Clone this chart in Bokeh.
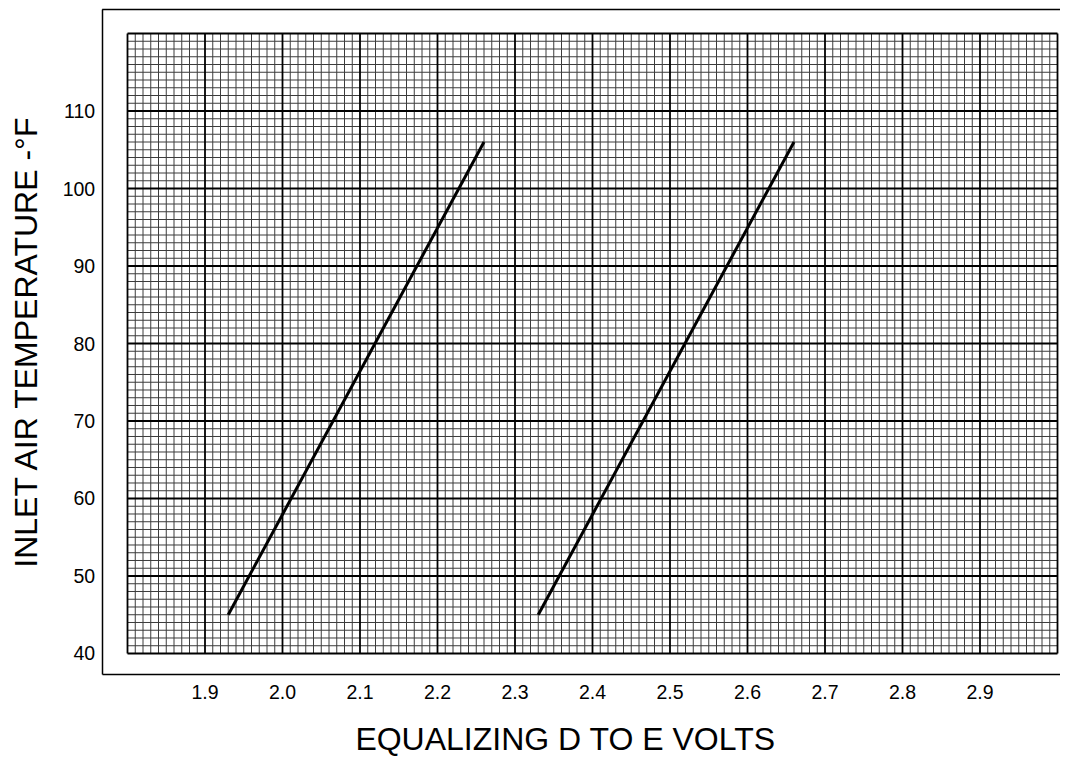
import numpy as np
from bokeh.plotting import figure
from bokeh.models import FixedTicker, Label
from bokeh.embed import file_html
from bokeh.resources import INLINE

# ---- chart data ----
curve_a_volts = [1.93, 2.26]
curve_a_temp = [45, 106]
curve_b_volts = [2.33, 2.66]
curve_b_temp = [45, 106]

x_ticks = [1.9, 2.0, 2.1, 2.2, 2.3, 2.4, 2.5, 2.6, 2.7, 2.8, 2.9]
x_tick_labels = ["1.9", "2.0", "2.1", "2.2", "2.3", "2.4", "2.5", "2.6", "2.7", "2.8", "2.9"]
y_ticks = [40, 50, 60, 70, 80, 90, 100, 110]
y_tick_labels = ["40", "50", "60", "70", "80", "90", "100", "110"]

x_title = "EQUALIZING D TO E VOLTS"
y_title = "INLET AIR TEMPERATURE -°F"

grid_x_min, grid_x_max = 1.8, 3.0
grid_y_min, grid_y_max = 40, 120

# ---- layout constants (data units of the outer frame) ----
FRAME_LEFT = 1.76735
FRAME_BOTTOM = 37.2903
FRAME_TOP = 123.0968
FRAME_RIGHT = 3.1

FONT = "Liberation Sans"

p = figure(width=1060, height=757,
           x_range=(1.636129, 3.003871), y_range=(26.5806, 124.2581),
           output_backend="svg", toolbar_location=None,
           min_border_left=0, min_border_right=0,
           min_border_top=0, min_border_bottom=0)
p.xgrid.visible = False
p.ygrid.visible = False
p.outline_line_color = None
p.background_fill_color = "white"
p.border_fill_color = "white"

# graph-paper grid (minor every 0.01 V / 1 degF, major every 0.1 V / 10 degF)
nx = int(round((grid_x_max - grid_x_min) / 0.01))
ny = int(round((grid_y_max - grid_y_min) / 1))
gx = np.round(grid_x_min + np.arange(nx + 1) * 0.01, 3)
gy = grid_y_min + np.arange(ny + 1) * 1.0
minor_x = [v for i, v in enumerate(gx) if i % 10]
major_x = [v for i, v in enumerate(gx) if i % 10 == 0]
minor_y = [v for i, v in enumerate(gy) if i % 10]
major_y = [v for i, v in enumerate(gy) if i % 10 == 0]

p.segment(x0=minor_x, y0=grid_y_min, x1=minor_x, y1=grid_y_max, line_color="#3c3c3c", line_width=1)
p.segment(x0=grid_x_min, y0=minor_y, x1=grid_x_max, y1=minor_y, line_color="#3c3c3c", line_width=1)
p.segment(x0=major_x, y0=grid_y_min, x1=major_x, y1=grid_y_max, line_color="black", line_width=1.8)
p.segment(x0=grid_x_min, y0=major_y, x1=grid_x_max, y1=major_y, line_color="black", line_width=1.8)

# curves
p.line(curve_a_volts, curve_a_temp, line_color="black", line_width=3)
p.line(curve_b_volts, curve_b_temp, line_color="black", line_width=3)

# top edge of the outer frame
p.segment(x0=[FRAME_LEFT], y0=[FRAME_TOP], x1=[FRAME_RIGHT], y1=[FRAME_TOP],
          line_color="black", line_width=1.5)

# axes (drawn at fixed positions: left and bottom edges of the outer frame)
for ax in (p.xaxis, p.yaxis):
    ax.axis_line_color = "black"
    ax.axis_line_width = 1.5
    ax.major_tick_in = 0
    ax.major_tick_out = 0
    ax.minor_tick_in = 0
    ax.minor_tick_out = 0
    ax.major_label_text_font = FONT
    ax.major_label_text_font_size = "19.5px"
    ax.major_label_text_color = "black"

p.xaxis.fixed_location = FRAME_BOTTOM
p.xaxis.bounds = (FRAME_LEFT, FRAME_RIGHT)
p.xaxis.ticker = FixedTicker(ticks=x_ticks)
p.xaxis.major_label_overrides = dict(zip(x_ticks, x_tick_labels))
p.xaxis.major_label_standoff = 11

p.yaxis.fixed_location = FRAME_LEFT
p.yaxis.bounds = (FRAME_BOTTOM, FRAME_TOP)
p.yaxis.ticker = FixedTicker(ticks=y_ticks)
p.yaxis.major_label_overrides = dict(zip(y_ticks, y_tick_labels))
p.yaxis.major_label_standoff = 7

# axis titles
p.add_layout(Label(x=2.365161, y=29.0, text=x_title, text_align="center",
                   text_baseline="alphabetic", text_font=FONT, text_font_size="32px",
                   text_color="black"))
p.add_layout(Label(x=1.6692, y=80.3, text=y_title, text_align="center",
                   text_baseline="alphabetic", angle=np.pi / 2, text_font=FONT,
                   text_font_size="32px", text_color="black"))

open("out.html", "w").write(file_html(p, INLINE))
